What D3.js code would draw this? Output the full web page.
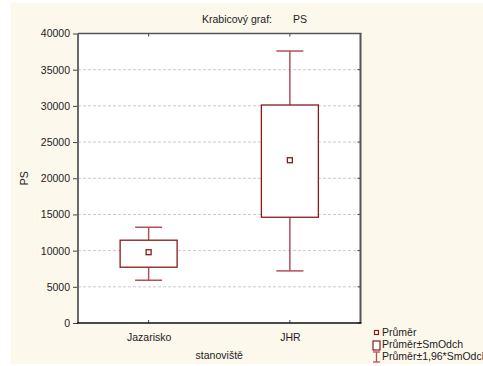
<!DOCTYPE html>
<html>
<head>
<meta charset="utf-8">
<script src="https://cdn.jsdelivr.net/npm/d3@7"></script>
<style>
  body { margin: 0; background: #fff; }
  text { font-family: Arial, "Liberation Sans", sans-serif; fill: #222; }
</style>
</head>
<body>
<script>
// categories and summary stats
const categories = ['Jazarisko', 'JHR'];
const means = [9780, 22490];
const sdLow = [7710, 14610];
const sdHigh = [11440, 30120];
const ciLow = [5910, 7200];
const ciHigh = [13230, 37580];
const yTicks = [0, 5000, 10000, 15000, 20000, 25000, 30000, 35000, 40000];
const legendLabels = ['Průměr', 'Průměr±SmOdch', 'Průměr±1,96*SmOdch'];

const width = 483;
const height = 366;
const margin = { top: 33.5, right: 122.5, bottom: 43, left: 78 };

const boxColor = '#8b1a1a';
const whiskerColor = '#b4505a';

const svg = d3.select('body').append('svg')
  .attr('width', width)
  .attr('height', height);

// cream panel
svg.append('rect')
  .attr('x', 11).attr('y', 3)
  .attr('width', width - 11).attr('height', 361)
  .attr('fill', '#fdf8ec');

const x = d3.scalePoint()
  .domain(categories)
  .range([margin.left, width - margin.right])
  .padding(0.5);

const y = d3.scaleLinear()
  .domain([0, 40000])
  .range([height - margin.bottom, margin.top]);

const x0 = margin.left, x1 = width - margin.right;
const y0 = y(0), y1 = y(40000);

svg.append('rect')
  .attr('x', x0).attr('y', y1)
  .attr('width', x1 - x0).attr('height', y0 - y1)
  .attr('fill', '#fff');

// dashed grid
svg.append('g')
  .selectAll('line')
  .data(yTicks.slice(1, -1))
  .join('line')
  .attr('x1', x0).attr('x2', x1)
  .attr('y1', (d) => y(d)).attr('y2', (d) => y(d))
  .attr('stroke', '#bbb')
  .attr('stroke-dasharray', '3,2')
  .attr('stroke-width', 0.8);

// y axis
const yAxis = svg.append('g')
  .attr('transform', `translate(${x0},0)`)
  .call(d3.axisLeft(y).tickValues(yTicks).tickSize(5).tickPadding(3).tickFormat(d3.format('d')));
yAxis.select('.domain').remove();
yAxis.selectAll('line').attr('stroke', '#444');
yAxis.selectAll('text').style('font-size', '10.5px').attr('fill', '#222');

// right ticks pointing in
svg.append('g')
  .selectAll('line')
  .data(yTicks)
  .join('line')
  .attr('x1', x1 - 3).attr('x2', x1)
  .attr('y1', (d) => y(d)).attr('y2', (d) => y(d))
  .attr('stroke', '#444');

// x axis
const xAxis = svg.append('g')
  .attr('transform', `translate(0,${y0})`)
  .call(d3.axisBottom(x).tickSize(0).tickPadding(11));
xAxis.select('.domain').remove();
xAxis.selectAll('text').style('font-size', '10.5px').attr('fill', '#222');

// inner category ticks at top and bottom
svg.append('g')
  .selectAll('line')
  .data(categories)
  .join('line')
  .attr('x1', (d) => x(d)).attr('x2', (d) => x(d))
  .attr('y1', y1).attr('y2', y1 + 3)
  .attr('stroke', '#444');
svg.append('g')
  .selectAll('line')
  .data(categories)
  .join('line')
  .attr('x1', (d) => x(d)).attr('x2', (d) => x(d))
  .attr('y1', y0 - 3).attr('y2', y0)
  .attr('stroke', '#444');

// frame
svg.append('line').attr('x1', x0).attr('x2', x0).attr('y1', y1).attr('y2', y0)
  .attr('stroke', '#6a6a6a').attr('stroke-width', 2);
svg.append('line').attr('x1', x0).attr('x2', x1 + 1).attr('y1', y1).attr('y2', y1)
  .attr('stroke', '#555').attr('stroke-width', 1.5);
svg.append('line').attr('x1', x1).attr('x2', x1).attr('y1', y1).attr('y2', y0)
  .attr('stroke', '#555').attr('stroke-width', 2);
svg.append('line').attr('x1', x0 - 1).attr('x2', x1 + 1).attr('y1', y0).attr('y2', y0)
  .attr('stroke', '#111').attr('stroke-width', 1.5);

// boxes
const boxW = 57;
const capW = 27;
const g = svg.append('g');
categories.forEach((c, i) => {
  const cx = x(c);
  g.append('line')
    .attr('x1', cx).attr('x2', cx)
    .attr('y1', y(ciHigh[i])).attr('y2', y(sdHigh[i]))
    .attr('stroke', whiskerColor).attr('stroke-width', 1.5);
  g.append('line')
    .attr('x1', cx).attr('x2', cx)
    .attr('y1', y(sdLow[i])).attr('y2', y(ciLow[i]))
    .attr('stroke', whiskerColor).attr('stroke-width', 1.5);
  [ciHigh[i], ciLow[i]].forEach((v) => {
    g.append('line')
      .attr('x1', cx - capW / 2).attr('x2', cx + capW / 2)
      .attr('y1', y(v)).attr('y2', y(v))
      .attr('stroke', whiskerColor).attr('stroke-width', 1.5);
  });
  g.append('rect')
    .attr('x', cx - boxW / 2).attr('y', y(sdHigh[i]))
    .attr('width', boxW).attr('height', y(sdLow[i]) - y(sdHigh[i]))
    .attr('fill', '#fff').attr('stroke', boxColor).attr('stroke-width', 1.3);
  g.append('rect')
    .attr('x', cx - 2.5).attr('y', y(means[i]) - 2.5)
    .attr('width', 5).attr('height', 5)
    .attr('fill', '#fff').attr('stroke', boxColor).attr('stroke-width', 1.3);
});

// titles
svg.append('text')
  .attr('x', 202).attr('y', 23)
  .style('font-size', '10.5px')
  .text('Krabicový graf:');
svg.append('text')
  .attr('x', 293).attr('y', 23)
  .style('font-size', '10.5px')
  .text('PS');

svg.append('text')
  .attr('transform', `translate(28,${(y0 + y1) / 2}) rotate(-90)`)
  .attr('text-anchor', 'middle')
  .style('font-size', '10.5px')
  .text('PS');

svg.append('text')
  .attr('x', (x0 + x1) / 2).attr('y', 359)
  .attr('text-anchor', 'middle')
  .style('font-size', '10.5px')
  .text('stanoviště');

// legend
const lg = svg.append('g');
const lx = 373;
lg.append('rect').attr('x', lx + 1.5).attr('y', 330.5).attr('width', 4).attr('height', 4)
  .attr('fill', '#fff').attr('stroke', boxColor).attr('stroke-width', 1.2);
lg.append('rect').attr('x', lx).attr('y', 341).attr('width', 7).attr('height', 9)
  .attr('fill', '#fff').attr('stroke', boxColor).attr('stroke-width', 1.2);
lg.append('line').attr('x1', lx + 3.5).attr('x2', lx + 3.5).attr('y1', 352).attr('y2', 362)
  .attr('stroke', whiskerColor).attr('stroke-width', 1.3);
lg.append('line').attr('x1', lx).attr('x2', lx + 7).attr('y1', 352).attr('y2', 352)
  .attr('stroke', whiskerColor).attr('stroke-width', 1.3);
lg.append('line').attr('x1', lx).attr('x2', lx + 7).attr('y1', 362).attr('y2', 362)
  .attr('stroke', whiskerColor).attr('stroke-width', 1.3);
lg.selectAll('text.leg')
  .data(legendLabels)
  .join('text')
  .attr('class', 'leg')
  .attr('x', lx + 9)
  .attr('y', (d, i) => 336 + i * 12)
  .style('font-size', '10.5px')
  .text((d) => d);
</script>
</body>
</html>
